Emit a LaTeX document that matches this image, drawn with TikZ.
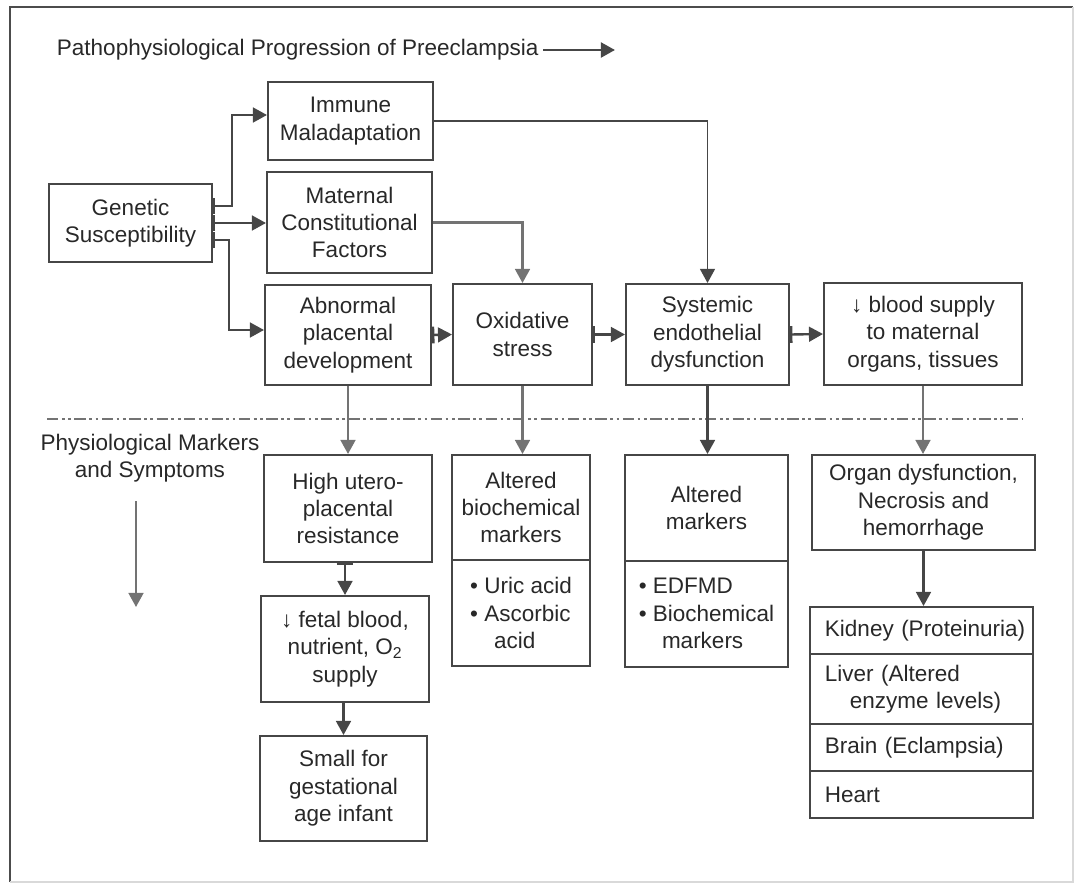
\documentclass[tikz,border=0pt]{standalone}
\usepackage{fontspec}
\setmainfont{Liberation Sans}
\usepackage{xcolor}
\usepackage{tikz}
\usetikzlibrary{arrows.meta, positioning, calc}
\definecolor{inkgray}{RGB}{40,40,40}
\definecolor{linegray}{RGB}{70,70,70}
\definecolor{softgray}{RGB}{115,115,115}

\begin{document}
\begin{tikzpicture}[
    x=0.025cm, y=-0.025cm,
    font=\fontsize{16}{19.5}\selectfont,
    box/.style={rectangle, draw=linegray, line width=1.4pt, text=inkgray, inner sep=2pt, align=center},
    item/.style={box, minimum width=5.575cm, text width=4.825cm, inner xsep=0.375cm, align=left},
    arr/.style={-{Triangle[length=10pt,width=10.5pt]}, line width=1.7pt, draw=linegray},
    barr/.style={arr, {Bar[width=12pt]}-{Triangle[length=10pt,width=10.5pt]}},
    sepline/.style={draw=softgray, line width=1.2pt, dash pattern=on 8pt off 2.5pt on 2pt off 2.5pt on 2pt off 2.5pt}
]
    \useasboundingbox (0,0) rectangle (1079,888);
    % frame
    \draw[black!70, line width=1.3pt] (10,882) -- (10,7) -- (1073,7);
    \draw[black!15, line width=1pt] (1073,7) -- (1073,882) -- (10,882);

    \node[text=inkgray, anchor=west] (title) at (52,50) {Pathophysiological Progression of Preeclampsia};
    \coordinate (progend) at (615,50);
    \draw[arr, line width=2pt] (title) -- (progend);

    % upper row
    \node[box, minimum width=4.075cm, minimum height=1.95cm] (gen) at (130.5,223) {Genetic\\Susceptibility};
    \node[box, minimum width=4.125cm, minimum height=1.95cm] (imm) at (350.5,121) {Immune\\Maladaptation};
    \node[box, minimum width=4.125cm, minimum height=2.525cm] (mat) at (349.5,222.5) {Maternal\\Constitutional\\Factors};
    \node[box, minimum width=4.15cm, minimum height=2.5cm] (abn) at (348,335) {Abnormal\\placental\\development};
    \node[box, minimum width=3.475cm, minimum height=2.525cm] (oxi) at (522.5,334.5) {Oxidative\\stress};
    \node[box, minimum width=4.075cm, minimum height=2.525cm] (sys) at (707.5,334.5) {Systemic\\endothelial\\dysfunction};
    \node[box, minimum width=4.95cm, minimum height=2.55cm] (bld) at (923,334) {↓ blood supply\\to maternal\\organs, tissues};

    \draw[barr] (gen.east |- 0,206) -- (232,206) |- (imm.west |- 0,115);
    \draw[barr] (gen.east) -- (gen.east -| mat.west);
    \draw[barr] (gen.east |- 0,240) -- (229,240) |- (abn.west |- 0,330);
    \draw[arr, line width=1.4pt] (imm.east) -| (sys.north);
    \draw[arr, draw=softgray] (mat.east) -| (oxi.north);
    \draw[barr] (abn.east) -- (oxi.west);
    \draw[barr] (oxi.east) -- (sys.west);
    \draw[barr] (sys.east) -- (bld.west);

    % markers and symptoms
    \coordinate (sepL) at (47,419);
    \coordinate (sepR) at (1022,419);
    \draw[sepline] (sepL) -- (sepR);

    \node[text=inkgray, align=center] (phys) at (150,458) {Physiological Markers\\and Symptoms};
    \coordinate (physend) at (136,607);
    \draw[arr, draw=softgray, shorten <=10pt] (phys.south -| physend) -- (physend);

    \node[box, minimum width=4.2cm, minimum height=2.675cm] (high) at (348,508.5) {High utero-\\placental\\resistance};
    \node[box, minimum width=4.2cm, minimum height=2.65cm] (fetal) at (345,649) {↓ fetal blood,\\nutrient, O\textsubscript{2}\\supply};
    \node[box, minimum width=4.175cm, minimum height=2.625cm] (small) at (343.5,788.5) {Small for\\gestational\\age infant};

    \node[box, minimum width=3.45cm, minimum height=2.625cm] (bio) at (521,507.5) {Altered\\biochemical\\markers};
    \node[box, minimum width=3.45cm, minimum height=2.65cm, align=left] (biolist) at (521,613)
        {\textbullet\ Uric acid\\\textbullet\ Ascorbic\\\hspace*{0.6cm}acid};
    \node[box, minimum width=4.075cm, minimum height=2.65cm] (mark) at (706.5,508) {Altered\\markers};
    \node[box, minimum width=4.075cm, minimum height=2.65cm, align=left] (marklist) at (706.5,613.5)
        {\textbullet\ EDFMD\\\textbullet\ Biochemical\\\hspace*{0.58cm}markers};

    \node[box, minimum width=5.575cm, minimum height=2.375cm] (organ) at (923.5,502.5) {Organ dysfunction,\\Necrosis and\\hemorrhage};
    \node[item, minimum height=1.175cm] (kidney) at (921.5,630.5) {\mbox{Kidney (Proteinuria)}};
    \node[item, minimum height=1.75cm] (liver) at (921.5,689) {Liver (Altered\\\hspace*{0.62cm}enzyme levels)};
    \node[item, minimum height=1.175cm] (brain) at (921.5,747.5) {Brain (Eclampsia)};
    \node[item, minimum height=1.175cm] (heart) at (921.5,794.5) {Heart};

    \draw[arr, draw=softgray] (abn.south) -- (high.north);
    \draw[barr] (fetal.north |- high.south) -- (fetal.north);
    \draw[arr] (small.north |- fetal.south) -- (small.north);
    \draw[arr, draw=softgray] (oxi.south) -- (oxi.south |- bio.north);
    \draw[arr] (sys.south) -- (sys.south |- mark.north);
    \draw[arr, draw=softgray] (bld.south) -- (bld.south |- organ.north);
    \draw[arr] (organ.south) -- (organ.south |- kidney.north);
\end{tikzpicture}
\end{document}
